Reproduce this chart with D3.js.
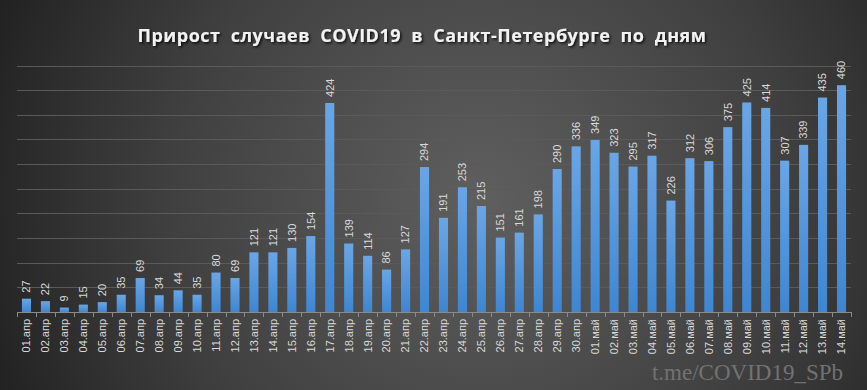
<!DOCTYPE html>
<html><head><meta charset="utf-8">
<script src="https://cdn.jsdelivr.net/npm/d3@7"></script>
<style>html,body{margin:0;padding:0;background:#2a2a2a;}svg{display:block;}</style>
</head><body>
<svg id="chart" width="867" height="390"></svg>
<script>
const categories = ["01.апр","02.апр","03.апр","04.апр","05.апр","06.апр","07.апр","08.апр","09.апр","10.апр","11.апр","12.апр","13.апр","14.апр","15.апр","16.апр","17.апр","18.апр","19.апр","20.апр","21.апр","22.апр","23.апр","24.апр","25.апр","26.апр","27.апр","28.апр","29.апр","30.апр","01.май","02.май","03.май","04.май","05.май","06.май","07.май","08.май","09.май","10.май","11.май","12.май","13.май","14.май"];
const values = [27,22,9,15,20,35,69,34,44,35,80,69,121,121,130,154,424,139,114,86,127,294,191,253,215,151,161,198,290,336,349,323,295,317,226,312,306,375,425,414,307,339,435,460];
const yTicks = [0,50,100,150,200,250,300,350,400,450,500];
const title = "Прирост случаев COVID19 в Санкт-Петербурге по дням";
const watermark = "t.me/COVID19_SPb";

const W = 867, H = 390;
const svg = d3.select("#chart");
const defs = svg.append("defs");
const bg = defs.append("radialGradient").attr("id","bg")
  .attr("gradientUnits","userSpaceOnUse").attr("cx",480).attr("cy",200).attr("r",560);
bg.append("stop").attr("offset","0").attr("stop-color","#5f5f5f");
bg.append("stop").attr("offset","0.55").attr("stop-color","#404040");
bg.append("stop").attr("offset","1").attr("stop-color","#1c1c1c");
const bar = defs.append("linearGradient").attr("id","bar").attr("x1",0).attr("y1",0).attr("x2",0).attr("y2",1);
bar.append("stop").attr("offset","0").attr("stop-color","#6aa6e6");
bar.append("stop").attr("offset","1").attr("stop-color","#3e86d2");
const sh = defs.append("filter").attr("id","sh").attr("x","-10%").attr("y","-50%").attr("width","120%").attr("height","200%");
sh.append("feDropShadow").attr("dx",1.5).attr("dy",1.5).attr("stdDeviation",1.2).attr("flood-color","#000").attr("flood-opacity",0.8);

svg.append("rect").attr("width",W).attr("height",H).attr("fill","url(#bg)");

const x = d3.scaleBand().domain(categories).range([17,851]).paddingInner(0.52).paddingOuter(0.26);
const y = d3.scaleLinear().domain([0,500]).range([312,65.5]);

// gridlines
svg.append("g").selectAll("line").data(yTicks.filter(d=>d>0)).join("line")
  .attr("x1",17).attr("x2",851).attr("y1",d=>Math.round(y(d))+0.5).attr("y2",d=>Math.round(y(d))+0.5)
  .attr("stroke","#5a5a5a").attr("stroke-width",1);

// bars
svg.append("g").selectAll("rect").data(values).join("rect")
  .attr("x",(d,i)=>x(categories[i])).attr("width",x.bandwidth())
  .attr("y",d=>y(d)).attr("height",d=>y(0)-y(d)).attr("fill","url(#bar)");

// x axis
const xAxis = d3.axisBottom(x).tickSize(0).tickFormat(d=>d);
const gx = svg.append("g").attr("transform","translate(0,312)").call(xAxis);
gx.select(".domain").attr("stroke","#8a8a8a").attr("d","M17.5,0.5H851.5");
const bounds = d3.range(categories.length+1).map(i=>17+i*((851-17)/categories.length));
gx.append("g").selectAll("line").data(bounds).join("line")
  .attr("x1",d=>Math.round(d)+0.5).attr("x2",d=>Math.round(d)+0.5).attr("y1",0).attr("y2",5)
  .attr("stroke","#8a8a8a");
gx.selectAll(".tick text")
  .attr("transform","rotate(-90)").attr("x",-7).attr("y",0).attr("dy","0.35em")
  .attr("text-anchor","end").attr("fill","#d8d8d8")
  .style("font-family","'Liberation Sans', Arial, sans-serif").style("font-size","11px");

// value labels
svg.append("g").selectAll("text").data(values).join("text")
  .attr("transform",(d,i)=>`translate(${x(categories[i])+x.bandwidth()/2},${y(d)-6}) rotate(-90)`)
  .attr("dy","0.35em").attr("text-anchor","start").attr("fill","#d8d8d8")
  .style("font-family","'Liberation Sans', Arial, sans-serif").style("font-size","11px")
  .text(d=>d);

// title
svg.append("text").attr("x",422).attr("y",42).attr("text-anchor","middle")
  .attr("fill","#f2f2f2").attr("filter","url(#sh)")
  .style("font-family","'Open Sans', sans-serif").style("font-weight","bold").style("font-size","18px")
  .style("word-spacing","5px").style("letter-spacing","0.5px")
  .text(title);

// watermark
svg.append("text").attr("x",843).attr("y",380).attr("text-anchor","end")
  .attr("fill","#727272")
  .style("font-family","'Liberation Serif', 'DejaVu Serif', serif").style("font-size","23px")
  .text(watermark);
</script>
</body></html>
